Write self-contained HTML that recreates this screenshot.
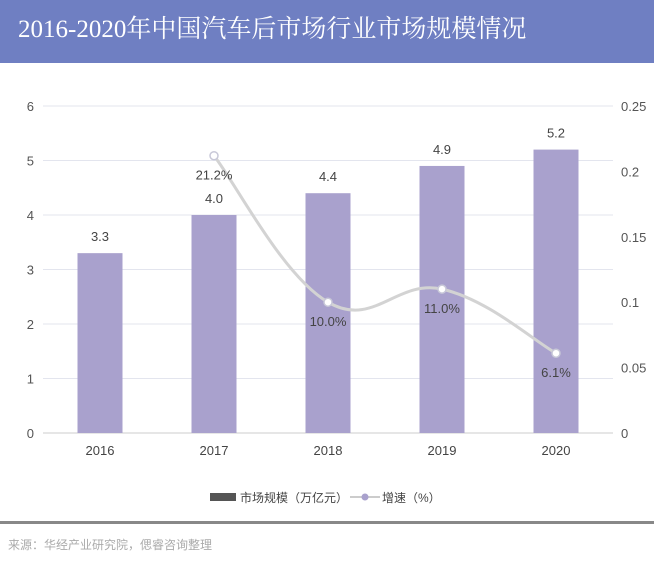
<!DOCTYPE html>
<html><head><meta charset="utf-8">
<style>
body{margin:0;width:654px;height:565px;background:#fff;overflow:hidden;font-family:"Liberation Sans","Noto Sans CJK SC",sans-serif;}
#hdr{position:absolute;left:0;top:0;width:654px;height:63px;background:#6f7fc2;}
#title{position:absolute;left:18px;top:14px;color:#fff;font-family:"Liberation Serif","Noto Serif CJK SC",serif;font-size:25px;font-weight:normal;white-space:nowrap;line-height:32px;}
#src{position:absolute;left:8px;top:536px;font-size:12px;color:#aaa;}
#rule{position:absolute;left:0;top:521px;width:654px;height:3px;background:#888;}
svg{position:absolute;left:0;top:0;}
</style></head><body>
<div id="hdr"><div id="title">2016-2020年中国汽车后市场行业市场规模情况</div></div>
<svg id="chart" width="654" height="520"></svg>
<div id="rule"></div>
<div id="src">来源：华经产业研究院，偲睿咨询整理</div>
<script>
const categories=["2016","2017","2018","2019","2020"];
const marketSize=[3.3,4.0,4.4,4.9,5.2];
const growthCats=["2017","2018","2019","2020"];
const growthRate=[0.212,0.100,0.110,0.061];
const growthLabels=["21.2%","10.0%","11.0%","6.1%"];
const leftTicks=[0,1,2,3,4,5,6];
const rightTicks=["0","0.05","0.1","0.15","0.2","0.25"];
const NS="http://www.w3.org/2000/svg";
const svg=document.getElementById('chart');
const x0=43,x1=613,yB=433,yT=106;
const yL=v=>yB-(v/6)*(yB-yT);
const yR=v=>yB-(v/0.25)*(yB-yT);
const bw=(x1-x0)/categories.length;
const xC=c=>x0+bw*(categories.indexOf(c)+0.5);
function mk(t,a,txt){const e=document.createElementNS(NS,t);for(const k in a)e.setAttribute(k,a[k]);if(txt!=null)e.textContent=txt;svg.appendChild(e);return e;}
leftTicks.forEach((v,i)=>{
 const g=mk('line',{x1:x0,x2:x1,y1:yL(v),y2:yL(v),stroke:i==0?'#ccc':'#e3e5ee','stroke-width':1});
 
 const t=mk('text',{x:34,y:yL(v)+5,'text-anchor':'end','font-size':13,fill:'#555'},String(v));
 
});
rightTicks.forEach((s,i)=>{
 const t=mk('text',{x:621,y:yR(parseFloat(s))+5,'font-size':13,fill:'#555'},s);
 
});
categories.forEach((c,i)=>{
 const v=marketSize[i];
 const r=mk('rect',{x:xC(c)-22.5,y:yL(v),width:45,height:yB-yL(v),fill:'#a9a1cd'});
 
 const l=mk('text',{x:xC(c),y:yL(v)-12,'text-anchor':'middle','font-size':13,fill:'#444'},v.toFixed(1));
 
 const t=mk('text',{x:xC(c),y:455,'text-anchor':'middle','font-size':13,fill:'#444'},c);
 
});
const pts=growthCats.map((c,i)=>[xC(c),yR(growthRate[i])]);
let d='M'+pts[0][0]+','+pts[0][1];
for(let i=0;i<pts.length-1;i++){
 const p0=pts[Math.max(i-1,0)],p1=pts[i],p2=pts[i+1],p3=pts[Math.min(i+2,pts.length-1)];
 const k=0.2;
 d+=` C${p1[0]+(p2[0]-p0[0])*k},${p1[1]+(p2[1]-p0[1])*k} ${p2[0]-(p3[0]-p1[0])*k},${p2[1]-(p3[1]-p1[1])*k} ${p2[0]},${p2[1]}`;
}
const ln=mk('path',{d:d,fill:'none',stroke:'#d3d3d3','stroke-width':3});

pts.forEach((p,i)=>{
 const c=mk('circle',{cx:p[0],cy:p[1],r:4,fill:'#fff',stroke:'#c8c8d8','stroke-width':1.5});
 
 const t=mk('text',{x:p[0],y:p[1]+24,'text-anchor':'middle','font-size':13,fill:'#444'},growthLabels[i]);
 
});
let e;
e=mk('rect',{x:210,y:493,width:26,height:8,fill:'#555'});
e=mk('text',{x:240,y:502,'font-size':12,fill:'#444'},'市场规模（万亿元）');
e=mk('line',{x1:350,x2:380,y1:497,y2:497,stroke:'#ccc','stroke-width':2});
e=mk('circle',{cx:365,cy:497,r:3.5,fill:'#a9a1cd'});
e=mk('text',{x:382,y:502,'font-size':12,fill:'#444'},'增速（%）');
</script>
</body></html>
